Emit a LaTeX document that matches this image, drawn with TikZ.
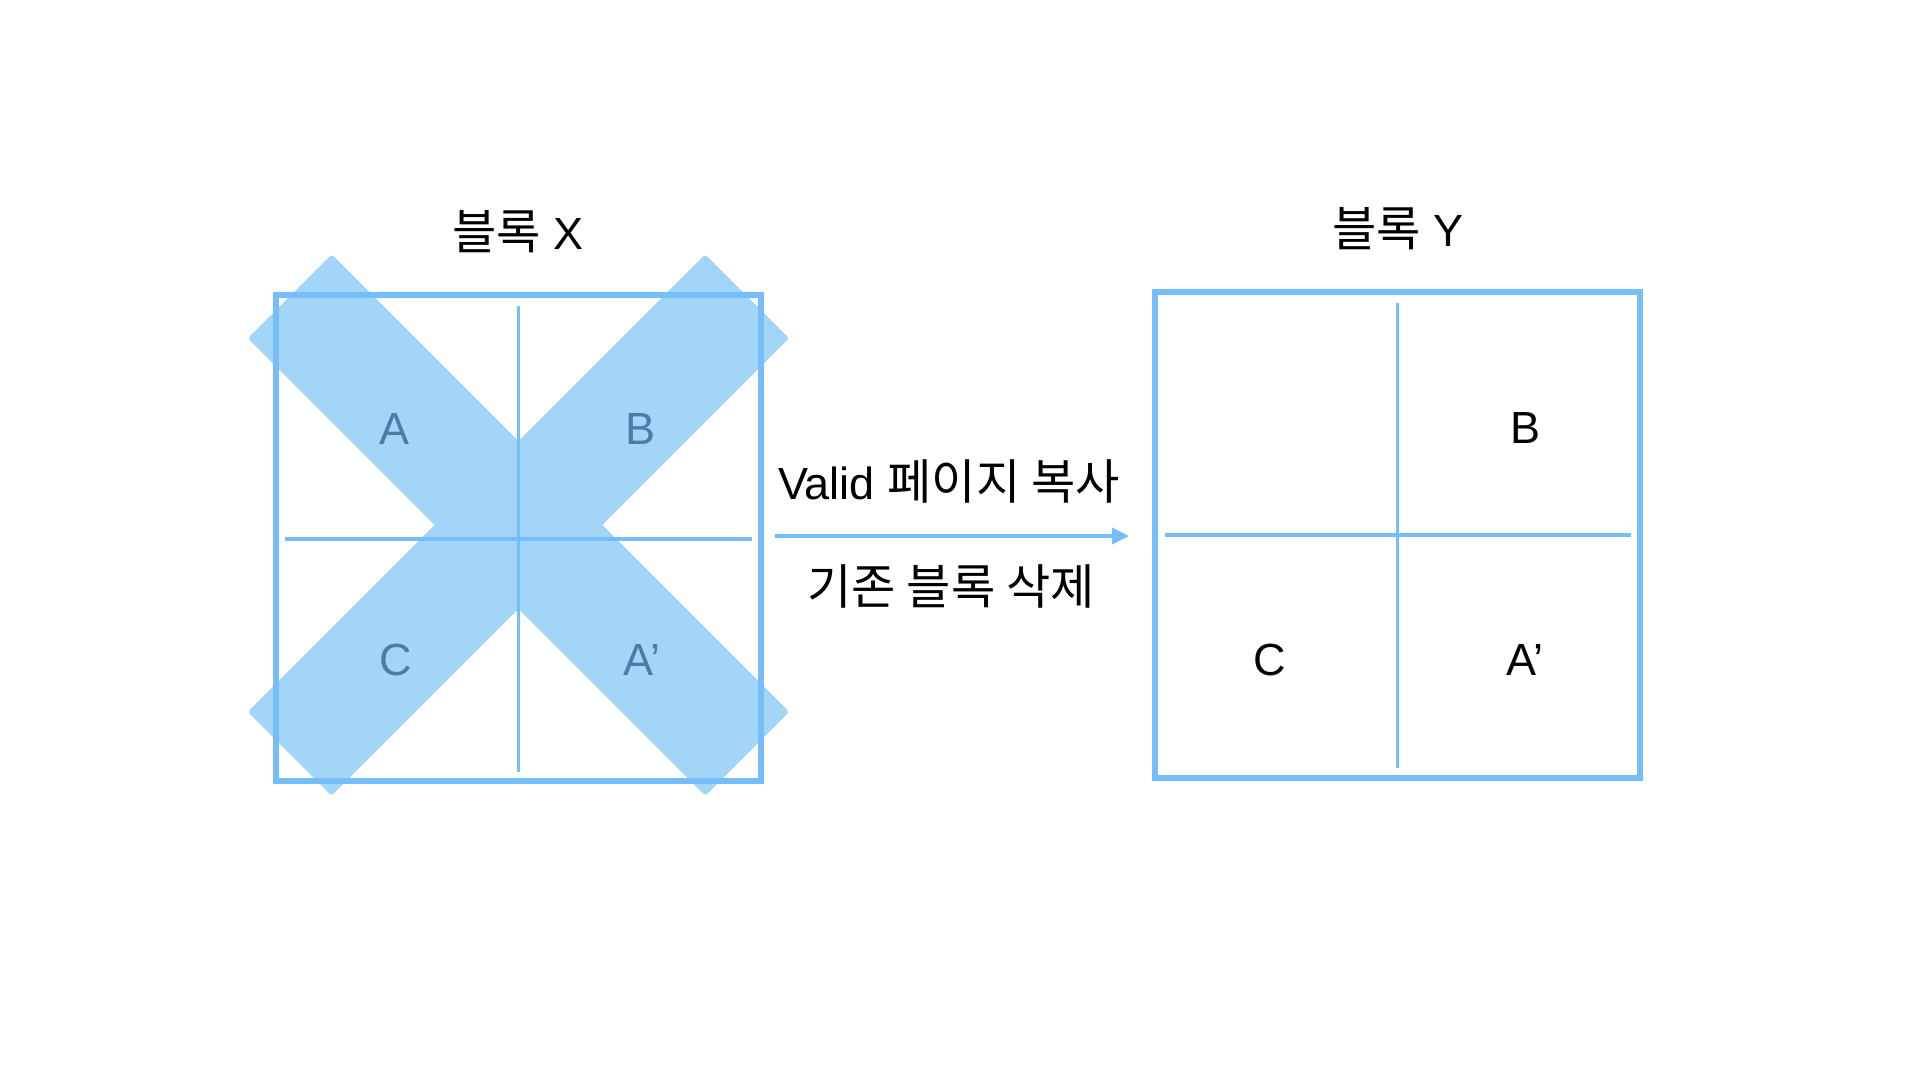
\documentclass[tikz,border=0pt]{standalone}
\usepackage{fontspec}
\setmainfont{Liberation Sans}
\newfontfamily\kr[Scale=1.07]{Noto Sans CJK KR}
\usetikzlibrary{arrows.meta}
\definecolor{boxblue}{RGB}{117,190,249}
\definecolor{xfill}{RGB}{163,213,249}
\definecolor{xtext}{RGB}{74,124,168}
\tikzset{
  blockbox/.style={draw=boxblue, line width=5.5pt, fill=none},
  divider/.style={draw=boxblue, line width=3.8pt},
  crossbar/.style={fill=xfill, rounded corners=3pt},
  lbl/.style={font=\fontsize{45}{52}\selectfont, inner sep=0pt},
  xlbl/.style={lbl, text=xtext},
  title/.style={font=\fontsize{45}{52}\selectfont, inner sep=0pt},
  flow/.style={draw=boxblue, line width=3.8pt, -{Triangle[length=17pt,width=16pt]}}
}
\begin{document}
\begin{tikzpicture}[x=1pt,y=-1pt]
\useasboundingbox (0,0) rectangle (1920,1080);
\fill[white] (0,0) rectangle (1920,1080);
% X cross
\begin{scope}[shift={(518.5,525)}]
  \fill[crossbar, rotate=45] (-323.5,-59.3) rectangle (323.5,59.3);
  \fill[crossbar, rotate=-45] (-323.5,-59.3) rectangle (323.5,59.3);
\end{scope}
% block X
\node[blockbox, minimum width=485pt, minimum height=486pt, inner sep=0pt] (bx) at (518.5,538) {};
\coordinate (bxt) at (518.5,306);
\coordinate (bxb) at (518.5,772);
\coordinate (bxl) at (285,539);
\coordinate (bxr) at (752,539);
\draw[divider] (bxt) -- (bxb);
\draw[divider] (bxl) -- (bxr);
% block Y
\node[blockbox, minimum width=485pt, minimum height=486pt, inner sep=0pt] (by) at (1397.5,535) {};
\coordinate (byt) at (1397.5,303);
\coordinate (byb) at (1397.5,768);
\coordinate (byl) at (1165,535);
\coordinate (byr) at (1631,535);
\draw[divider] (byt) -- (byb);
\draw[divider] (byl) -- (byr);
% labels X
\node[xlbl] (xa) at (395,429) {A};
\node[xlbl] (xb) at (641,429) {B};
\node[xlbl] (xc) at (396,660) {C};
\node[xlbl] (xap) at (642,660) {A’};
% labels Y
\node[lbl] (yb) at (1525,428) {B};
\node[lbl] (yc) at (1270,660) {C};
\node[lbl] (yap) at (1525,660) {A’};
% titles
\node[title] (tx) at (518,232) {{\kr 블록} X};
\node[title] (ty) at (1398,229) {{\kr 블록} Y};
% arrow
\coordinate (as) at (775,536);
\coordinate (ae) at (1129,536);
\draw[flow] (as) -- (ae);
\node[title] (t1) at (949,481) {Valid {\kr 페이지 복사}};
\node[title] (t2) at (951,586) {\kr 기존 블록 삭제};
\end{tikzpicture}
\end{document}
